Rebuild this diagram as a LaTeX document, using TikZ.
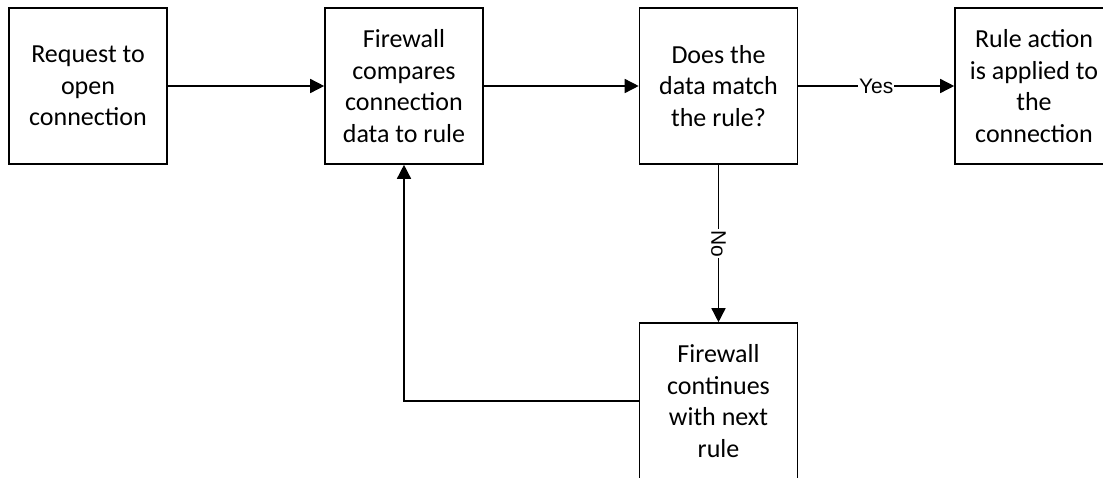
\documentclass[tikz,border=0pt]{standalone}
\usepackage{fontspec}
\setmainfont{Carlito}
\newfontfamily\labelfont{Liberation Sans}
\usetikzlibrary{arrows.meta}
\begin{document}
\begin{tikzpicture}[x=1pt,y=-1pt,
  box/.style={draw=black, line width=1.6pt, minimum width=158pt, minimum height=156pt, inner sep=0pt,
    align=center, font=\fontsize{26pt}{31.5pt}\selectfont},
  conn/.style={line width=1.5pt, -{Triangle[length=14pt,width=14pt]}},
  lab/.style={fill=white, inner sep=1pt, font=\labelfont\fontsize{21pt}{24pt}\selectfont}]
\clip (0,0) rectangle (1103,477);
\useasboundingbox (0,0) rectangle (1103,477);
\fill[white] (0,0) rectangle (1103,477);
\node[box] (b1) at (88,86) {Request to\\open\\connection};
\node[box] (b2) at (404,86) {Firewall\\compares\\connection\\data to rule};
\node[box] (b3) at (718.5,86) {Does the\\data match\\the rule?};
\node[box] (b4) at (1034,86) {Rule action\\is applied to\\the\\connection};
\node[box] (b5) at (718.5,401) {Firewall\\continues\\with next\\rule};
\draw[conn] (b1) -- (b2);
\draw[conn] (b2) -- (b3);
\draw[conn] (b3) -- node[lab] (yes) {Yes} (b4);
\draw[conn] (b3) -- node[lab, rotate=-90] (no) {No} (b5);
\draw[conn] (b5.west) -| (b2.south);
\end{tikzpicture}
\end{document}
